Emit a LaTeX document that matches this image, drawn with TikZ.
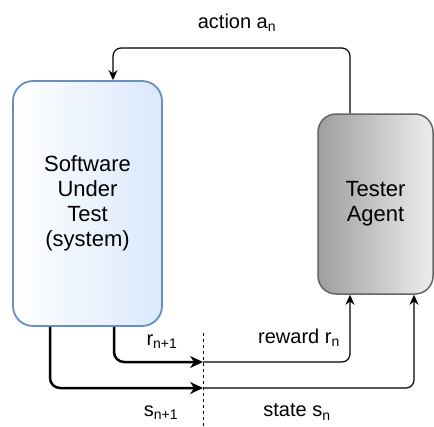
\documentclass[tikz,border=0pt]{standalone}
\usepackage{fontspec}
\setmainfont{Liberation Sans}
\usetikzlibrary{arrows.meta,positioning}

\definecolor{sutline}{HTML}{6C8EBF}
\definecolor{sutfill}{HTML}{DAE8FC}
\definecolor{agentline}{HTML}{666666}

\tikzset{
    sutbox/.style={draw=sutline, line width=1.8pt, rounded corners=20pt,
        left color=white, right color=sutfill, align=center,
        font=\fontsize{22}{25}\selectfont},
    agentbox/.style={draw=agentline, line width=1.5pt, rounded corners=18pt,
        left color=black!38, right color=black!7, align=center,
        font=\fontsize{22}{25}\selectfont},
    flow/.style={line width=1.2pt, rounded corners=8pt,
        -{Stealth[length=10pt,width=9pt]}},
    outflow/.style={line width=2.5pt, rounded corners=10pt,
        -{Stealth[length=13pt,width=12pt]}},
    lbl/.style={font=\fontsize{20}{24}\selectfont}
}

\begin{document}
\begin{tikzpicture}[x=1pt,y=-1pt]
    \useasboundingbox (0,0) rectangle (434,426);

    \node[sutbox, minimum width=149pt, minimum height=245pt] (sut) at (87.5,203.5)
        {Software\\Under\\Test\\(system)};
    \node[agentbox, minimum width=115pt, minimum height=180pt] (agent) at (375.5,204)
        {Tester\\Agent};

    % action
    \coordinate (top) at (113,48);
    \draw[flow] ([xshift=-25.5pt]agent.north) |- (top) -- (sut.north -| top);
    \node[lbl] (action) at (237,23) {action a\textsubscript{n}};

    % cut between step n+1 and step n
    \coordinate (cuttop) at (203,333);
    \coordinate (cutbot) at (203,426);
    \draw[dashed, line width=0.8pt] (cuttop) -- (cutbot);

    % reward
    \coordinate (rcut) at (203,362);
    \draw[outflow] ([xshift=26.5pt]sut.south) |- (rcut);
    \draw[flow] (rcut) -| ([xshift=-25.5pt]agent.south);
    \node[lbl] (rnext) at (162,342) {r\textsubscript{n+1}};
    \node[lbl] (reward) at (299,338) {reward r\textsubscript{n}};

    % state
    \coordinate (scut) at (203,388);
    \draw[outflow] ([xshift=-37.5pt]sut.south) |- (scut);
    \draw[flow] (scut) -| ([xshift=38.5pt]agent.south);
    \node[lbl] (snext) at (161,413) {s\textsubscript{n+1}};
    \node[lbl] (state) at (297,412) {state s\textsubscript{n}};
\end{tikzpicture}
\end{document}
